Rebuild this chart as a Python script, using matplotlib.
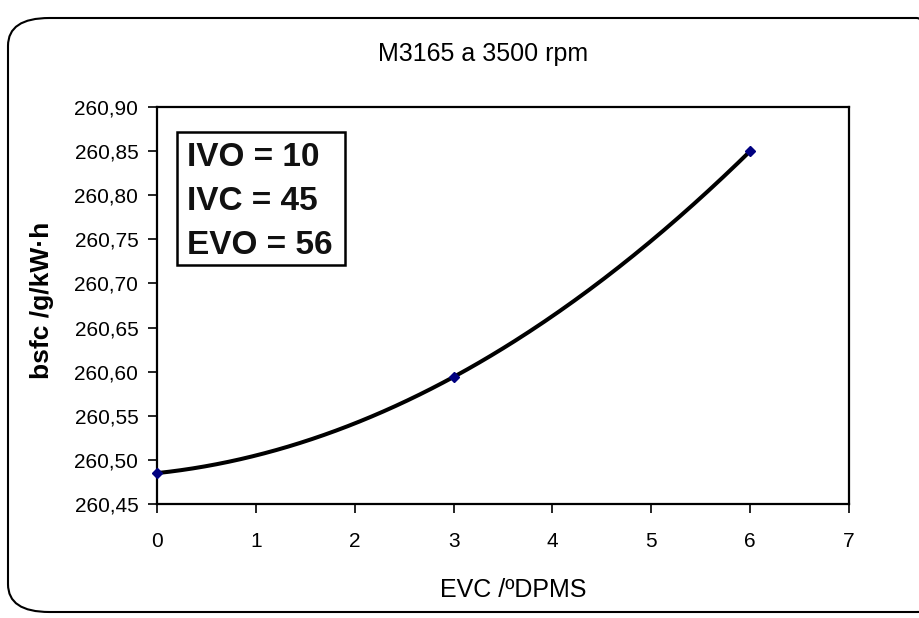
import numpy as np
import matplotlib.pyplot as plt
from matplotlib.patches import FancyBboxPatch, Rectangle
from matplotlib.ticker import FuncFormatter

# ============================================
# DATA
# ============================================
evc = [0, 3, 6]
bsfc = [260.485, 260.594, 260.850]
x_ticks = [0, 1, 2, 3, 4, 5, 6, 7]
y_ticks = [260.45, 260.50, 260.55, 260.60, 260.65, 260.70, 260.75, 260.80, 260.85, 260.90]
box_lines = ["IVO = 10", "IVC = 45", "EVO = 56"]

plt.rcParams['font.family'] = ['Liberation Sans', 'DejaVu Sans']

W, H = 919, 618

fig = plt.figure(figsize=(W / 100, H / 100), dpi=100)

# rounded chart frame (right side runs off the picture)
frame = FancyBboxPatch((8 / W, 6 / H), 950 / W, 606 / H - 12 / H,
                       boxstyle="round,pad=0,rounding_size=0.045",
                       transform=fig.transFigure, facecolor='none',
                       edgecolor='black', linewidth=1.5, clip_on=False, zorder=5)
fig.patches.append(frame)

ax = fig.add_axes([157 / W, 1 - 504 / H, (849 - 157) / W, (504 - 107) / H])
ax.set_facecolor('white')

# smoothed line through the three points
coef = np.polyfit(evc, bsfc, len(evc) - 1)
sx = np.linspace(evc[0], evc[-1], 200)
sy = np.polyval(coef, sx)
ax.plot(sx, sy, color='black', linewidth=2.9, zorder=3, clip_on=False,
        solid_capstyle='round')
ax.plot(evc, bsfc, linestyle='none', marker='D', markersize=5.5,
        color='#000080', zorder=4, clip_on=False)

ax.set_xlim(0, 7)
ax.set_ylim(260.45, 260.90)
ax.set_xticks(x_ticks)
ax.set_yticks(y_ticks)
ax.yaxis.set_major_formatter(FuncFormatter(lambda v, p: f"{v:.2f}".replace('.', ',')))
ax.tick_params(direction='out', length=6.5, width=1.2, labelsize=15, colors='black')
ax.tick_params(axis='x', pad=14)
ax.tick_params(axis='y', pad=7)
for s in ax.spines.values():
    s.set_linewidth(1.6)
    s.set_color('black')

ax.set_xlabel("EVC /ºDPMS", fontsize=18, va='center')
ax.xaxis.set_label_coords((513 - 157) / 692, -(590 - 504) / 397)
ax.set_ylabel("bsfc /g/kW·h", fontsize=19, fontweight='bold', va='center')
ax.yaxis.set_label_coords(-(157 - 42) / 692, (504 - 300) / 397)

fig.text(483 / W, 1 - 54 / H, "M3165 a 3500 rpm", ha='center', va='center', fontsize=18)

# parameter box
ax.add_patch(Rectangle((0.029, 0.602), 0.243, 0.335, transform=ax.transAxes,
                       facecolor='white', edgecolor='black', linewidth=1.8, zorder=5))
for yy, line in zip([0.882, 0.771, 0.660], box_lines):
    ax.text(0.043, yy, line, transform=ax.transAxes, ha='left', va='center_baseline',
            fontsize=24, fontweight='bold', color='#111111', zorder=6)

fig.savefig("out.png", dpi=100)
